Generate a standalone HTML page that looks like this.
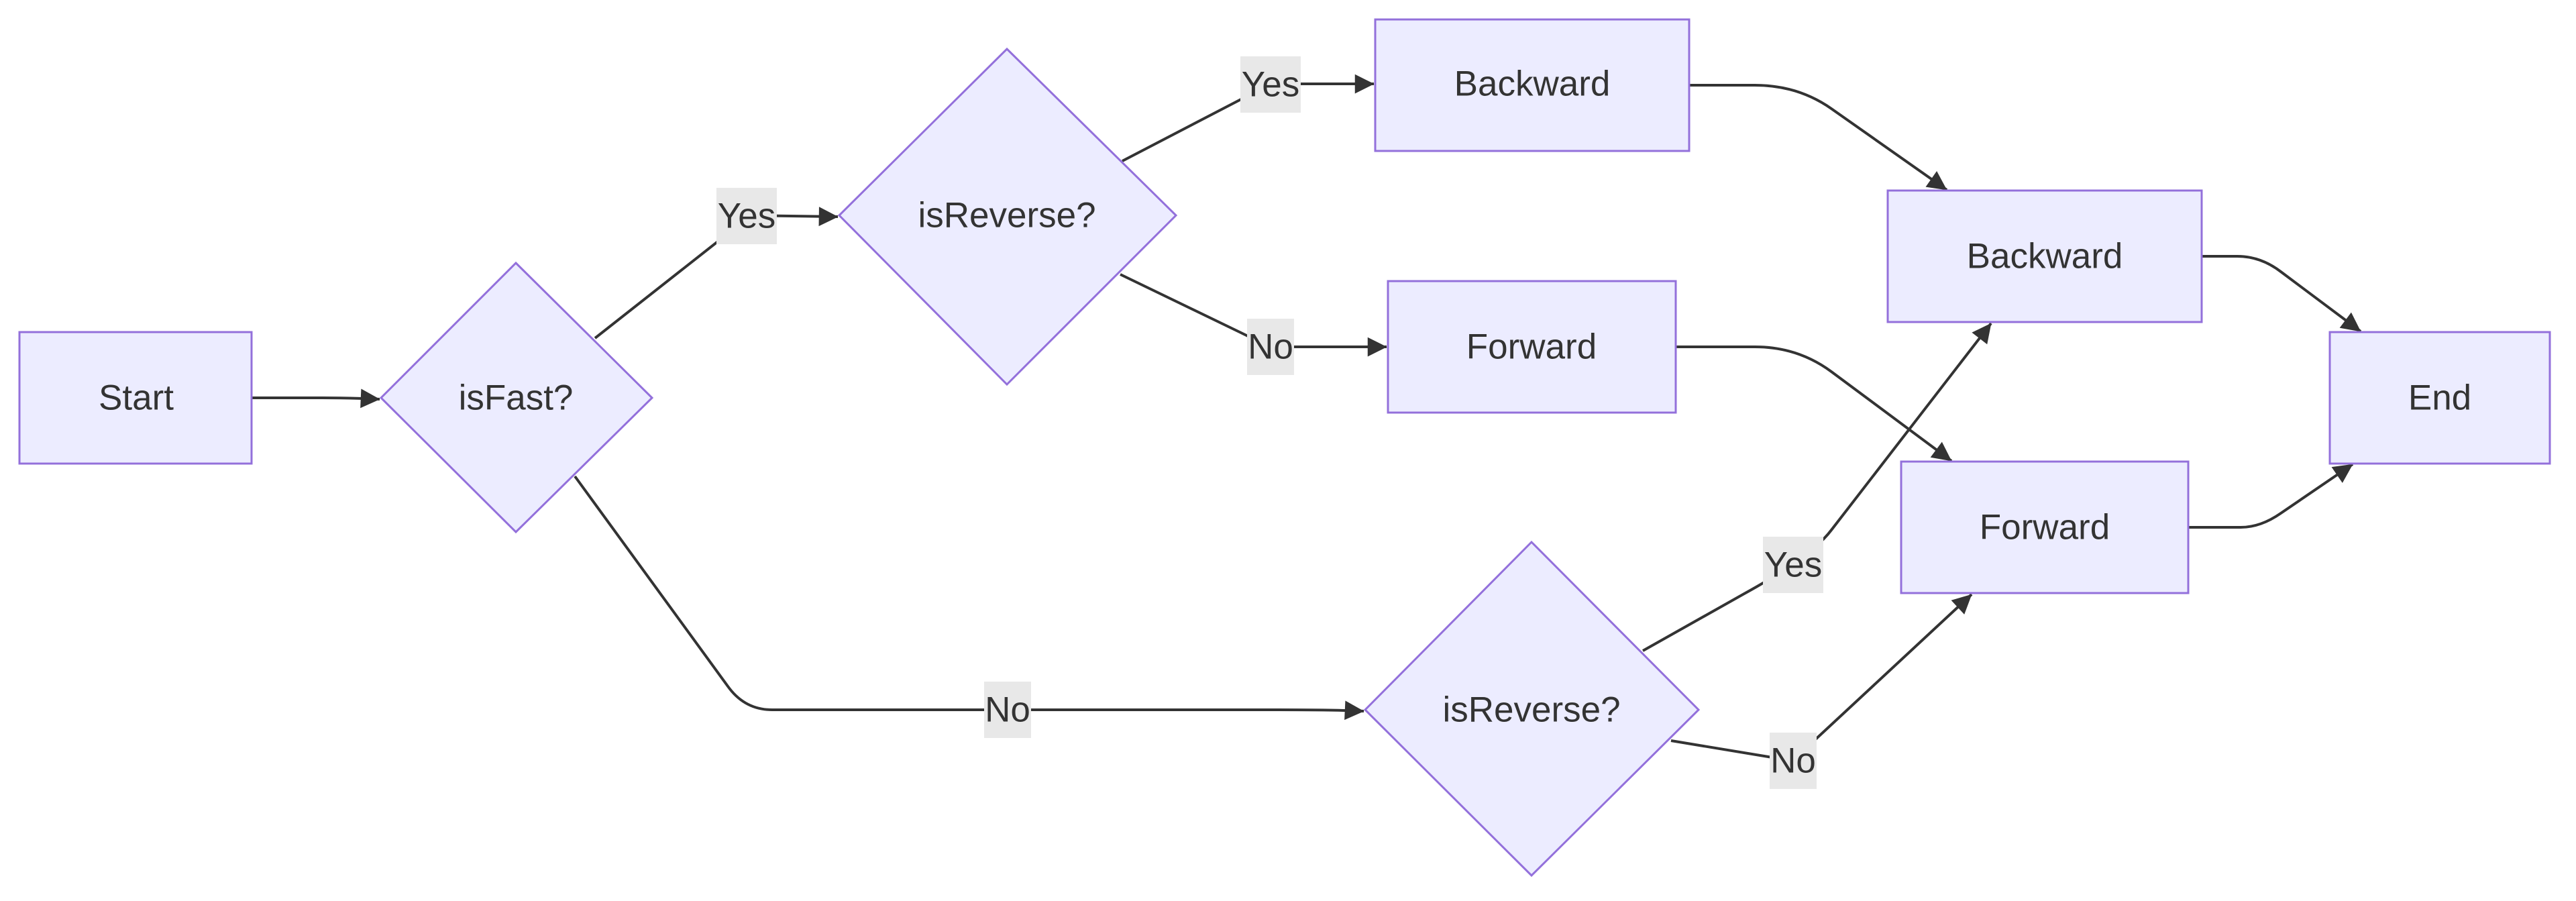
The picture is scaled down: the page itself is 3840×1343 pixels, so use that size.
<!DOCTYPE html>
<html><head><meta charset="utf-8"><style>
html,body{margin:0;padding:0;background:#fff;}
svg{display:block;}
text{font-family:"Liberation Sans",Arial,sans-serif;fill:#333;}
</style></head><body>
<svg width="3840" height="1343" viewBox="0 0 3840 1343" xmlns="http://www.w3.org/2000/svg">
<defs>
<marker id="a" viewBox="0 0 10 10" refX="9" refY="5" markerWidth="9" markerHeight="9" markerUnits="userSpaceOnUse" orient="auto" style="overflow:visible">
<path d="M0,0 L10,5 L0,10 z" fill="#333" transform="scale(3.2) translate(-7,-3.4)"/>
</marker>
</defs>
<g fill="none" stroke="#333" stroke-width="4" marker-end="url(#a)">
<path d="M375,593 L480,593 Q520,593 566,595"/>
<path d="M887,504 L1070,360 L1112,321 L1249,323"/>
<path d="M1673,240 L1850,148 L1893,125 L2048,125"/>
<path d="M1670,409 L1850,496 L1893,517 L2067,517"/>
<path d="M857,710 L1085,1023 Q1110,1058 1151,1058 L1900,1058 Q1990,1058 2033,1060"/>
<path d="M2449,970 L2600,885 Q2700,830 2730,790 L2968,482"/>
<path d="M2491,1104 L2672,1134 L2939,886"/>
<path d="M2518,127 L2616,127 Q2680,127 2730,162 L2902,283"/>
<path d="M2498,517 L2616,517 Q2680,517 2730,554 L2909,687"/>
<path d="M3282,382 L3335,382 Q3370,382 3400,405 L3519,494"/>
<path d="M3262,786 L3340,786 Q3370,786 3400,765 L3507,692"/>
</g>
<g fill="#ececff" stroke="#9370db" stroke-width="3">
<rect x="29" y="495" width="346" height="196"/>
<polygon points="769,392 972,593 769,793 568,593"/>
<polygon points="1501,73 1753,321 1501,573 1251,321"/>
<rect x="2050" y="29" width="468" height="196"/>
<rect x="2069" y="419" width="429" height="196"/>
<rect x="2814" y="284" width="468" height="196"/>
<rect x="2834" y="688" width="428" height="196"/>
<rect x="3473" y="495" width="328" height="196"/>
<polygon points="2283,808 2532,1058 2283,1305 2035,1058"/>
</g>
<g fill="#e8e8e8">
<rect x="1068" y="280" width="90" height="84"/>
<rect x="1849" y="84" width="90" height="84"/>
<rect x="1859" y="475" width="70" height="84"/>
<rect x="1467" y="1016" width="70" height="84"/>
<rect x="2628" y="800" width="90" height="84"/>
<rect x="2638" y="1092" width="70" height="84"/>
</g>
<g font-size="53" text-anchor="middle" dominant-baseline="central">
<text x="203" y="593">Start</text>
<text x="769" y="593">isFast?</text>
<text x="1501" y="321">isReverse?</text>
<text x="2284" y="125">Backward</text>
<text x="2283" y="517">Forward</text>
<text x="3048" y="382">Backward</text>
<text x="3048" y="786">Forward</text>
<text x="3637" y="593">End</text>
<text x="2283" y="1058">isReverse?</text>
<text x="1113" y="322">Yes</text>
<text x="1894" y="126">Yes</text>
<text x="1894" y="517">No</text>
<text x="1502" y="1058">No</text>
<text x="2673" y="842">Yes</text>
<text x="2673" y="1134">No</text>
</g>
</svg>
</body></html>
